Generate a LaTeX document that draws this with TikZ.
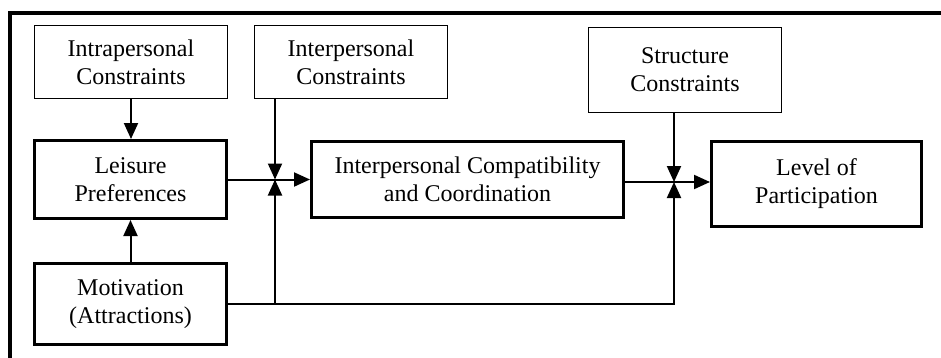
\documentclass[tikz,border=0pt]{standalone}
\usepackage{fontspec}
\setmainfont{Liberation Serif}
\usetikzlibrary{arrows.meta}

\begin{document}
\begin{tikzpicture}[x=0.5pt,y=-0.5pt,
  font=\fontsize{12}{14}\selectfont,
  thinbox/.style={draw,line width=0.6pt,align=center,inner sep=0pt},
  thickbox/.style={draw,line width=1.5pt,align=center,inner sep=0pt},
  arr/.style={line width=1pt,-{Triangle[length=8pt,width=7pt]}}]
\useasboundingbox (0,0) rectangle (941,358);
\draw[line width=2pt] (10,358) -- (10,13) -- (941,13);

\node[thinbox,minimum width=96.7pt,minimum height=36.7pt] (intra) at (131,62) {Intrapersonal\\Constraints};
\node[thinbox,minimum width=96.7pt,minimum height=36.7pt] (inter) at (351,62) {Interpersonal\\Constraints};
\node[thinbox,minimum width=96.7pt,minimum height=42.7pt] (struct) at (685,70) {Structure\\Constraints};
\node[thickbox,minimum width=96pt,minimum height=39pt] (leisure) at (130.5,179.5) {Leisure\\Preferences};
\node[thickbox,minimum width=96pt,minimum height=40.5pt] (motiv) at (130.5,304) {Motivation\\(Attractions)};
\node[thickbox,minimum width=156pt,minimum height=38pt] (compat) at (467.5,179) {Interpersonal Compatibility\\and Coordination};
\node[thickbox,minimum width=105pt,minimum height=42.5pt] (level) at (816.5,183.5) {Level of\\Participation};

\coordinate (j1) at (275,179.5);
\coordinate (j2) at (674,182);

\draw[arr] (intra.south) -- (intra.south |- leisure.north);
\draw[arr] (motiv.north) -- (leisure.south);
\draw[arr] (leisure.east) -- (leisure.east -| compat.west);
\draw[arr] (inter.south -| j1) -- (j1);
\draw[arr] (motiv.east) -| (j2);
\draw[arr] (motiv.east -| j1) -- (j1);
\draw[arr] (compat.east |- j2) -- (level.west |- j2);
\draw[arr] (struct.south -| j2) -- (j2);
\end{tikzpicture}
\end{document}
